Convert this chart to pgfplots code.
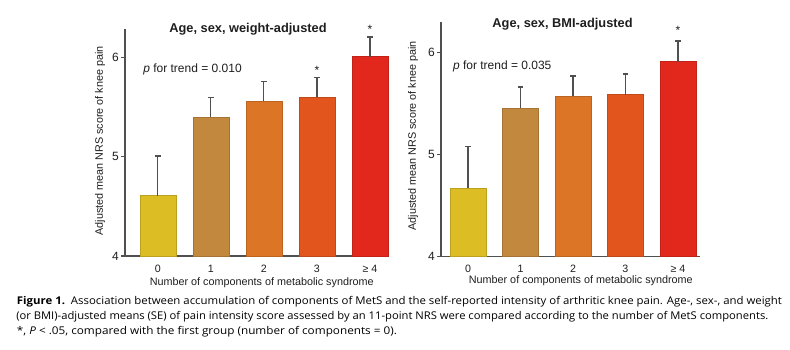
\documentclass[border=0pt]{standalone}
\usepackage{pgfplots}
\pgfplotsset{compat=1.18}
\usepackage{graphicx}
\usepackage{fontspec}
\setmainfont{Liberation Sans}
\newfontfamily\capfont{Open Sans}
\definecolor{c0}{RGB}{220,189,35}
\definecolor{c1}{RGB}{194,137,62}
\definecolor{c2}{RGB}{220,117,38}
\definecolor{c3}{RGB}{226,86,30}
\definecolor{c4}{RGB}{226,40,28}
\definecolor{axgray}{RGB}{80,80,80}
\definecolor{txt}{RGB}{30,30,30}
\pgfplotsset{
  mybars/.style={
    scale only axis, anchor=south west,
    axis x line*=bottom, axis y line*=left,
    axis line style={draw=axgray, line width=0.8pt},
    tick align=outside, major tick length=3pt,
    every major x tick/.append style={draw=none},
    ytick={4,5,6}, ymin=4,
    xtick={0,1,2,3,4}, xticklabels={0,1,2,3,≥ 4},
    tick style={draw=axgray, line width=0.8pt},
    /pgf/number format/assume math mode=true,
    yticklabel style={font=\fontsize{9}{10}\selectfont, text=txt, inner sep=1.5pt},
    xticklabel style={font=\fontsize{8}{9}\selectfont, text=txt},
    clip=false,
  },
  onebar/.style={ybar, bar width=27pt, bar shift=0pt, fill=#1, draw=#1!85!black, line width=0.4pt,
    error bars/.cd, y dir=plus, y explicit,
    error bar style={draw=axgray, line width=0.9pt},
    error mark=-,
    error mark options={rotate=90, draw=axgray, line width=1.2pt, mark size=2.2pt}},
}
\begin{document}
\begin{tikzpicture}
\path[use as bounding box] (0,0) rectangle (592.5pt,262.5pt);
% left panel
\begin{axis}[mybars, at={(93.75pt,70.5pt)}, width=198pt, height=170.25pt,
  xmin=-0.62, xmax=4.36, ymax=6.29]
\addplot[onebar=c0] coordinates {(0,4.61) +- (0,0.40)};
\addplot[onebar=c1] coordinates {(1,5.40) +- (0,0.20)};
\addplot[onebar=c2] coordinates {(2,5.56) +- (0,0.20)};
\addplot[onebar=c3] coordinates {(3,5.60) +- (0,0.20)};
\addplot[onebar=c4] coordinates {(4,6.01) +- (0,0.20)};
\node[anchor=north, inner sep=0pt, font=\fontsize{9}{10}\selectfont, text=txt] at (axis cs:3,5.92) {*};
\node[anchor=north, inner sep=0pt, font=\fontsize{9}{10}\selectfont, text=txt] at (axis cs:4,6.33) {*};
\node[anchor=base west, inner sep=0pt, font=\fontsize{9}{10}\selectfont, text=txt] at (axis cs:-0.28,5.85) {\textit{p} for trend = 0.010};
\end{axis}
% right panel
\begin{axis}[mybars, at={(330.75pt,70pt)}, width=194.25pt, height=176.25pt,
  xmin=-0.514, xmax=4.42, ymax=6.30]
\addplot[onebar=c0] coordinates {(0,4.67) +- (0,0.41)};
\addplot[onebar=c1] coordinates {(1,5.455) +- (0,0.205)};
\addplot[onebar=c2] coordinates {(2,5.57) +- (0,0.20)};
\addplot[onebar=c3] coordinates {(3,5.585) +- (0,0.205)};
\addplot[onebar=c4] coordinates {(4,5.91) +- (0,0.20)};
\node[anchor=north, inner sep=0pt, font=\fontsize{9}{10}\selectfont, text=txt] at (axis cs:4,6.26) {*};
\node[anchor=base west, inner sep=0pt, font=\fontsize{9}{10}\selectfont, text=txt] at (axis cs:-0.29,5.83) {\textit{p} for trend = 0.035};
\end{axis}
% titles
\node[anchor=base, inner sep=0pt, font=\bfseries\fontsize{9.6}{11}\selectfont, text=txt] at (186pt,238pt) {Age, sex, weight-adjusted};
\node[anchor=base, inner sep=0pt, font=\bfseries\fontsize{9.6}{11}\selectfont, text=txt] at (421.9pt,242pt) {Age, sex, BMI-adjusted};
% y labels
\node[rotate=90, inner sep=0pt, font=\fontsize{8.1}{9}\selectfont, text=txt] at (75pt,156.75pt) {Adjusted mean NRS score of knee pain};
\node[rotate=90, inner sep=0pt, font=\fontsize{8.1}{9}\selectfont, text=txt] at (309.75pt,160.5pt) {Adjusted mean NRS score of knee pain};
% x labels
\node[anchor=base, inner sep=0pt, font=\fontsize{8.1}{9}\selectfont, text=txt] at (196.3pt,48.4pt) {Number of components of metabolic syndrome};
\node[anchor=base, inner sep=0pt, font=\fontsize{8.1}{9}\selectfont, text=txt] at (435.6pt,49.5pt) {Number of components of metabolic syndrome};
% caption
\node[anchor=base west, inner sep=0pt, font=\capfont\fontsize{8}{9}\selectfont] at (12.5pt,33.75pt) {\resizebox{573.75pt}{\height}{\textbf{Figure 1.}\ \ Association between accumulation of components of MetS and the self-reported intensity of arthritic knee pain. Age-, sex-, and weight}};
\node[anchor=base west, inner sep=0pt, font=\capfont\fontsize{8}{9}\selectfont] at (12pt,22.5pt) {\resizebox{564pt}{\height}{(or BMI)-adjusted means (SE) of pain intensity score assessed by an 11-point NRS were compared according to the number of MetS components.}};
\node[anchor=base west, inner sep=0pt, font=\capfont\fontsize{8}{9}\selectfont] at (12.5pt,11.25pt) {\resizebox{285pt}{\height}{*, \textit{P} < .05, compared with the first group (number of components = 0).}};
\end{tikzpicture}
\end{document}
